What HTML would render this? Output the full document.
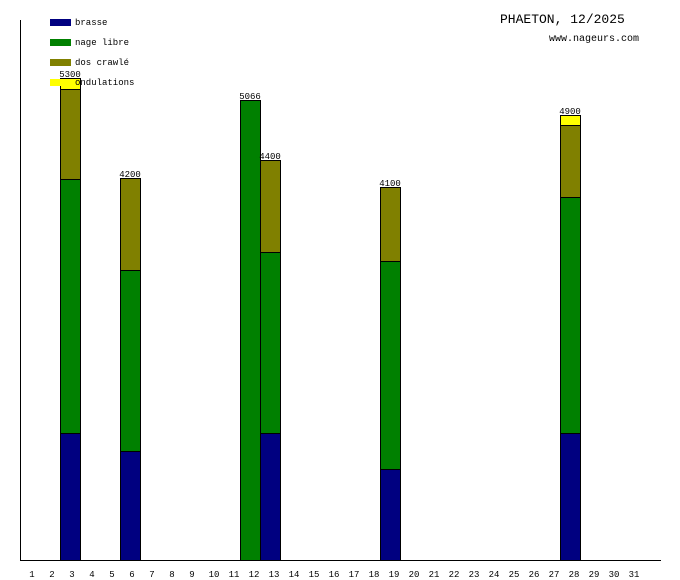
<!DOCTYPE html>
<html><head><meta charset="utf-8"><style>body{margin:0;background:#fff}svg{display:block}</style></head>
<body>
<svg width="680" height="580" xmlns="http://www.w3.org/2000/svg" font-family="Liberation Mono, DejaVu Sans Mono, monospace">
<rect width="680" height="580" fill="#fff"/>
<g stroke="#000" stroke-width="1">
<!-- day3 -->
<rect x="60.5" y="433.5" width="20" height="127" fill="#000080"/>
<rect x="60.5" y="179.5" width="20" height="254" fill="#008000"/>
<rect x="60.5" y="89.5" width="20" height="90" fill="#808000"/>
<rect x="60.5" y="78.5" width="20" height="11" fill="#ffff00"/>
<!-- day6 -->
<rect x="120.5" y="451.5" width="20" height="109" fill="#000080"/>
<rect x="120.5" y="270.5" width="20" height="181" fill="#008000"/>
<rect x="120.5" y="178.5" width="20" height="92" fill="#808000"/>
<!-- day12 -->
<rect x="240.5" y="100.5" width="20" height="460" fill="#008000"/>
<!-- day13 -->
<rect x="260.5" y="433.5" width="20" height="127" fill="#000080"/>
<rect x="260.5" y="252.5" width="20" height="181" fill="#008000"/>
<rect x="260.5" y="160.5" width="20" height="92" fill="#808000"/>
<!-- day19 -->
<rect x="380.5" y="469.5" width="20" height="91" fill="#000080"/>
<rect x="380.5" y="261.5" width="20" height="208" fill="#008000"/>
<rect x="380.5" y="187.5" width="20" height="74" fill="#808000"/>
<!-- day28 -->
<rect x="560.5" y="433.5" width="20" height="127" fill="#000080"/>
<rect x="560.5" y="197.5" width="20" height="236" fill="#008000"/>
<rect x="560.5" y="125.5" width="20" height="72" fill="#808000"/>
<rect x="560.5" y="115.5" width="20" height="10" fill="#ffff00"/>
</g>
<line x1="20.5" y1="20" x2="20.5" y2="561" stroke="#000"/>
<line x1="20" y1="560.5" x2="661" y2="560.5" stroke="#000"/>
<g font-size="9" fill="#000" text-anchor="middle">
<text x="70" y="77">5300</text>
<text x="130" y="177">4200</text>
<text x="250" y="99">5066</text>
<text x="270" y="159">4400</text>
<text x="390" y="186">4100</text>
<text x="570" y="114">4900</text>
</g>
<rect x="50" y="19" width="21" height="7" fill="#000080"/>
<rect x="50" y="39" width="21" height="7" fill="#008000"/>
<rect x="50" y="59" width="21" height="7" fill="#808000"/>
<rect x="50" y="79" width="21" height="7" fill="#ffff00"/>
<g font-size="9" fill="#000">
<text x="75" y="25">brasse</text>
<text x="75" y="45">nage libre</text>
<text x="75" y="65">dos crawlé</text>
<text x="75" y="85">ondulations</text>
</g>
<text x="500" y="23" font-size="13" fill="#000">PHAETON, 12/2025</text>
<text x="549" y="41" font-size="10" fill="#000">www.nageurs.com</text>
<g font-size="9" fill="#000" text-anchor="middle">
<text x="32" y="577">1</text><text x="52" y="577">2</text><text x="72" y="577">3</text><text x="92" y="577">4</text><text x="112" y="577">5</text><text x="132" y="577">6</text><text x="152" y="577">7</text><text x="172" y="577">8</text><text x="192" y="577">9</text><text x="214" y="577">10</text><text x="234" y="577">11</text><text x="254" y="577">12</text><text x="274" y="577">13</text><text x="294" y="577">14</text><text x="314" y="577">15</text><text x="334" y="577">16</text><text x="354" y="577">17</text><text x="374" y="577">18</text><text x="394" y="577">19</text><text x="414" y="577">20</text><text x="434" y="577">21</text><text x="454" y="577">22</text><text x="474" y="577">23</text><text x="494" y="577">24</text><text x="514" y="577">25</text><text x="534" y="577">26</text><text x="554" y="577">27</text><text x="574" y="577">28</text><text x="594" y="577">29</text><text x="614" y="577">30</text><text x="634" y="577">31</text>
</g>
</svg>
</body></html>
